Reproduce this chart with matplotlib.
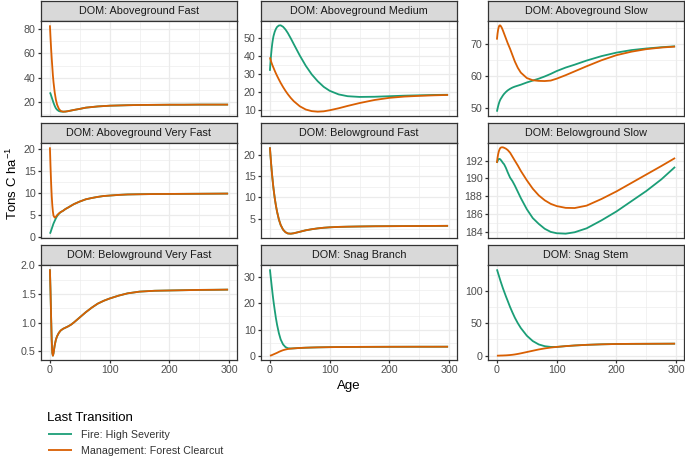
import matplotlib
matplotlib.use('Agg')
import matplotlib.pyplot as plt
import numpy as np

plt.rcParams['font.family'] = ['Liberation Sans', 'DejaVu Sans']
plt.rcParams['mathtext.fontset'] = 'custom'
plt.rcParams['mathtext.rm'] = 'Liberation Sans'
plt.rcParams['mathtext.it'] = 'Liberation Sans'

# ---------------------------------------------------------------- data
AGE = [0, 1, 2, 3, 4, 5, 6, 8, 10, 12, 15, 18, 22, 26, 30, 35, 40, 50,
       60, 70, 80, 90, 100, 115, 130, 150, 175, 200, 225, 250, 275, 298]

POOLS = ['DOM: Aboveground Fast', 'DOM: Aboveground Medium', 'DOM: Aboveground Slow',
         'DOM: Aboveground Very Fast', 'DOM: Belowground Fast', 'DOM: Belowground Slow',
         'DOM: Belowground Very Fast', 'DOM: Snag Branch', 'DOM: Snag Stem']

SERIES = ['Fire: High Severity', 'Management: Forest Clearcut']

# Aboveground Fast
ag_fast_fire = [28, 27, 25.5, 24, 22.5, 21, 19.5, 17, 15, 13.8, 12.7, 12.3, 12.2, 12.3,
                12.6, 13.1, 13.6, 14.5, 15.5, 16.0, 16.5, 16.8, 17.1, 17.3, 17.5, 17.7,
                17.8, 17.9, 17.9, 18.0, 18.0, 18.0]
ag_fast_cc = [83, 73, 64, 56, 49, 42, 36.5, 28, 22, 18, 14.5, 12.8, 12.2, 12.3,
              12.6, 13.1, 13.6, 14.5, 15.5, 16.0, 16.5, 16.8, 17.1, 17.3, 17.5, 17.7,
              17.8, 17.9, 17.9, 18.0, 18.0, 18.0]
# Aboveground Medium
ag_med_fire = [31.5, 36.5, 40.5, 44, 46.8, 49, 50.8, 53.2, 54.8, 55.9, 56.7, 56.8, 56,
               54.5, 52.5, 49.5, 46.3, 40, 34.3, 29.5, 25.7, 22.6, 20.4, 18.4, 17.4, 17,
               17.1, 17.4, 17.7, 17.9, 18.1, 18.2]
ag_med_cc = [39, 37.8, 36.7, 35.7, 34.8, 34, 33.2, 31.6, 30.1, 28.7, 26.7, 24.8, 22.5,
             20.4, 18.5, 16.4, 14.6, 11.8, 10, 9.1, 8.8, 9.0, 9.6, 10.7, 12, 13.6,
             15.3, 16.5, 17.2, 17.6, 17.9, 18.1]
# Aboveground Slow
ag_slow_fire = [48.7, 49.6, 50.4, 51.1, 51.7, 52.2, 52.6, 53.2, 53.8, 54.3, 54.9, 55.4,
                55.9, 56.3, 56.6, 56.9, 57.2, 57.9, 58.5, 59.1, 59.8, 60.6, 61.5, 62.6,
                63.5, 64.8, 66.2, 67.3, 68.1, 68.6, 69.0, 69.3]
ag_slow_cc = [71.4, 73.2, 74.5, 75.3, 75.8, 75.9, 75.8, 75.2, 74.3, 73.3, 71.8, 70.3,
              68.5, 66.5, 64.5, 62.5, 61, 59.3, 58.6, 58.4, 58.35, 58.5, 59.1, 60.2,
              61.4, 63, 64.9, 66.5, 67.6, 68.4, 68.9, 69.2]
# Aboveground Very Fast
ag_vfast_fire = [0.7, 1.0, 1.4, 1.8, 2.2, 2.6, 3.0, 3.6, 4.2, 4.7, 5.2, 5.6, 5.9, 6.3,
                 6.6, 7.0, 7.4, 8.0, 8.5, 8.8, 9.05, 9.25, 9.35, 9.5, 9.6, 9.65, 9.7,
                 9.72, 9.74, 9.76, 9.78, 9.8]
ag_vfast_cc = [20.3, 16, 12.3, 9.3, 7.2, 5.7, 4.8, 4.35, 4.5, 4.9, 5.3, 5.6, 5.9, 6.3,
               6.6, 7.0, 7.4, 8.0, 8.5, 8.8, 9.05, 9.25, 9.35, 9.5, 9.6, 9.65, 9.7,
               9.72, 9.74, 9.76, 9.78, 9.8]
# Belowground Fast
bg_fast_fire = [21.8, 19.8, 18, 16.3, 14.8, 13.4, 12.1, 9.9, 8.1, 6.6, 4.8, 3.5, 2.4,
                1.8, 1.5, 1.45, 1.55, 1.9, 2.25, 2.5, 2.7, 2.85, 2.95, 3.05, 3.1, 3.15,
                3.2, 3.22, 3.24, 3.26, 3.28, 3.3]
bg_fast_cc = [21.8, 19.8, 18, 16.3, 14.8, 13.4, 12.1, 9.9, 8.1, 6.6, 4.8, 3.5, 2.4,
              1.8, 1.5, 1.45, 1.55, 1.9, 2.25, 2.5, 2.7, 2.85, 2.95, 3.05, 3.1, 3.15,
              3.2, 3.22, 3.24, 3.26, 3.28, 3.3]
# Belowground Slow
bg_slow_fire = [191.75, 191.95, 192.1, 192.18, 192.2, 192.18, 192.12, 191.95, 191.75,
                191.6, 191.2, 190.7, 190.1, 189.7, 189.2, 188.5, 187.8, 186.55, 185.55,
                184.9, 184.35, 184.0, 183.85, 183.8, 183.96, 184.4, 185.3, 186.3,
                187.45, 188.6, 189.9, 191.3]
bg_slow_cc = [191.75, 192.3, 192.7, 193.0, 193.2, 193.35, 193.45, 193.5, 193.5, 193.45,
              193.35, 193.2, 192.9, 192.45, 192.0, 191.45, 190.85, 189.8, 188.85,
              188.1, 187.55, 187.15, 186.9, 186.7, 186.68, 186.95, 187.7, 188.55,
              189.5, 190.45, 191.4, 192.3]
# Belowground Very Fast
bg_vfast_fire = [1.93, 1.55, 1.1, 0.7, 0.47, 0.42, 0.46, 0.6, 0.7, 0.76, 0.82, 0.86,
                 0.89, 0.91, 0.93, 0.96, 1.0, 1.09, 1.18, 1.26, 1.33, 1.38, 1.42, 1.47,
                 1.51, 1.54, 1.555, 1.56, 1.565, 1.57, 1.572, 1.575]
bg_vfast_cc = [1.93, 1.55, 1.1, 0.7, 0.47, 0.42, 0.46, 0.6, 0.7, 0.76, 0.82, 0.86,
               0.89, 0.91, 0.93, 0.96, 1.0, 1.09, 1.18, 1.26, 1.33, 1.38, 1.42, 1.47,
               1.51, 1.54, 1.555, 1.56, 1.565, 1.57, 1.572, 1.575]
# Snag Branch
snag_branch_fire = [33, 30.8, 28.7, 26.6, 24.6, 22.6, 20.8, 17.5, 14.4, 11.8, 8.6, 6.2,
                    4.3, 3.3, 2.85, 2.75, 2.8, 2.95, 3.05, 3.12, 3.18, 3.22, 3.26, 3.3,
                    3.33, 3.36, 3.38, 3.4, 3.41, 3.42, 3.42, 3.43]
snag_branch_cc = [0, 0.05, 0.1, 0.2, 0.3, 0.4, 0.5, 0.7, 0.9, 1.1, 1.45, 1.75, 2.1,
                  2.35, 2.55, 2.7, 2.8, 2.95, 3.05, 3.12, 3.18, 3.22, 3.26, 3.3, 3.33,
                  3.36, 3.38, 3.4, 3.41, 3.42, 3.42, 3.43]
# Snag Stem
snag_stem_fire = [133, 130, 127, 124, 121, 118, 115, 109.5, 104, 99, 91.5, 84.5, 75,
                  66.5, 58.5, 50, 42.6, 30.8, 22.5, 17.3, 14.6, 13.5, 13.5, 14.7, 15.7,
                  16.7, 17.5, 18, 18.2, 18.3, 18.4, 18.5]
snag_stem_cc = [0, 0, 0.05, 0.1, 0.1, 0.15, 0.2, 0.25, 0.3, 0.4, 0.5, 0.7, 1.0, 1.4,
                1.9, 2.7, 3.6, 5.6, 7.6, 9.6, 11.2, 12.5, 13.5, 14.7, 15.7, 16.7, 17.5,
                18, 18.2, 18.3, 18.4, 18.5]

FIRE = [ag_fast_fire, ag_med_fire, ag_slow_fire, ag_vfast_fire, bg_fast_fire,
        bg_slow_fire, bg_vfast_fire, snag_branch_fire, snag_stem_fire]
CLEARCUT = [ag_fast_cc, ag_med_cc, ag_slow_cc, ag_vfast_cc, bg_fast_cc,
            bg_slow_cc, bg_vfast_cc, snag_branch_cc, snag_stem_cc]

YTICKS = [[20, 40, 60, 80], [10, 20, 30, 40, 50], [50, 60, 70],
          [0, 5, 10, 15, 20], [5, 10, 15, 20], [184, 186, 188, 190, 192],
          [0.5, 1.0, 1.5, 2.0], [0, 10, 20, 30], [0, 50, 100]]
XTICKS = [0, 100, 200, 300]

# ---------------------------------------------------------------- style
GREEN = '#1B9E77'
ORANGE = '#D95F02'
DARK = '#333333'
GRID = '#EBEBEB'
W, H = 685, 458

fig = plt.figure(figsize=(W / 100, H / 100), dpi=100)


def px_axes(left, top, width, height):
    # pixel box (top-left origin) -> figure fraction
    return fig.add_axes([left / W, 1 - (top + height) / H, width / W, height / H])


def minor_of(ticks):
    step = ticks[1] - ticks[0]
    return [t + step / 2 for t in [ticks[0] - step] + list(ticks)]


def facet(i, ax, strip, bottom_row):
    fire = ax.plot(AGE, FIRE[i], color=GREEN, lw=1.3, solid_capstyle='butt')[0]
    cc = ax.plot(AGE, CLEARCUT[i], color=ORANGE, lw=1.3, solid_capstyle='butt')[0]
    xlim = ax.get_xlim()
    ylim = ax.get_ylim()
    ax.set_xticks(XTICKS)
    ax.set_xticks([50, 150, 250], minor=True)
    ax.set_yticks(YTICKS[i])
    ax.set_yticks(minor_of(YTICKS[i]), minor=True)
    ax.set_xlim(xlim)
    ax.set_ylim(ylim)
    ax.grid(which='major', color=GRID, lw=0.9)
    ax.grid(which='minor', color=GRID, lw=0.45)
    ax.set_axisbelow(True)
    for s in ax.spines.values():
        s.set_color(DARK)
        s.set_linewidth(0.9)
    ax.tick_params(which='minor', length=0)
    ax.tick_params(which='major', length=2.4, width=0.9, color=DARK,
                   labelsize=7.7, labelcolor='#4D4D4D', pad=1.5)
    if not bottom_row:
        ax.tick_params(axis='x', bottom=False, labelbottom=False)
    # strip on top
    strip.set_facecolor('#D9D9D9')
    strip.set_xticks([])
    strip.set_yticks([])
    for s in strip.spines.values():
        s.set_color(DARK)
        s.set_linewidth(0.9)
    strip.text(0.5, 0.48, POOLS[i], ha='center', va='center', fontsize=7.8,
               color='#1A1A1A', transform=strip.transAxes)
    return fire, cc


lefts = [41, 261, 488]
tops = [1, 123, 245]
pw, sh, ph = 196, 20, 95

for i in range(9):
    r, c = divmod(i, 3)
    strip = px_axes(lefts[c], tops[r], pw, sh)
    ax = px_axes(lefts[c], tops[r] + sh, pw, ph)
    handles = facet(i, ax, strip, r == 2)
    if i == 0:
        legend_handles = handles

fig.text(349 / W, 1 - 386 / H, 'Age', ha='center', va='center', fontsize=9.5,
         color='black')
fig.text(12 / W, 1 - 183 / H, 'Tons C ha$^{-1}$', ha='center', va='center',
         rotation=90, fontsize=9.5, color='black')

# legend: title as its own text, keys below it
fig.text(47 / W, 1 - 418 / H, 'Last Transition', ha='left', va='center',
         fontsize=9.5, color='black')
leg = fig.legend(legend_handles, SERIES,
                 loc='center left', bbox_to_anchor=(46 / W, 1 - 443 / H),
                 frameon=False, fontsize=7.7,
                 handlelength=2.2, handletextpad=0.9, labelspacing=0.6,
                 borderaxespad=0, borderpad=0.2)
for t in leg.get_texts():
    t.set_color('#333333')

fig.savefig('out.png', dpi=100)
